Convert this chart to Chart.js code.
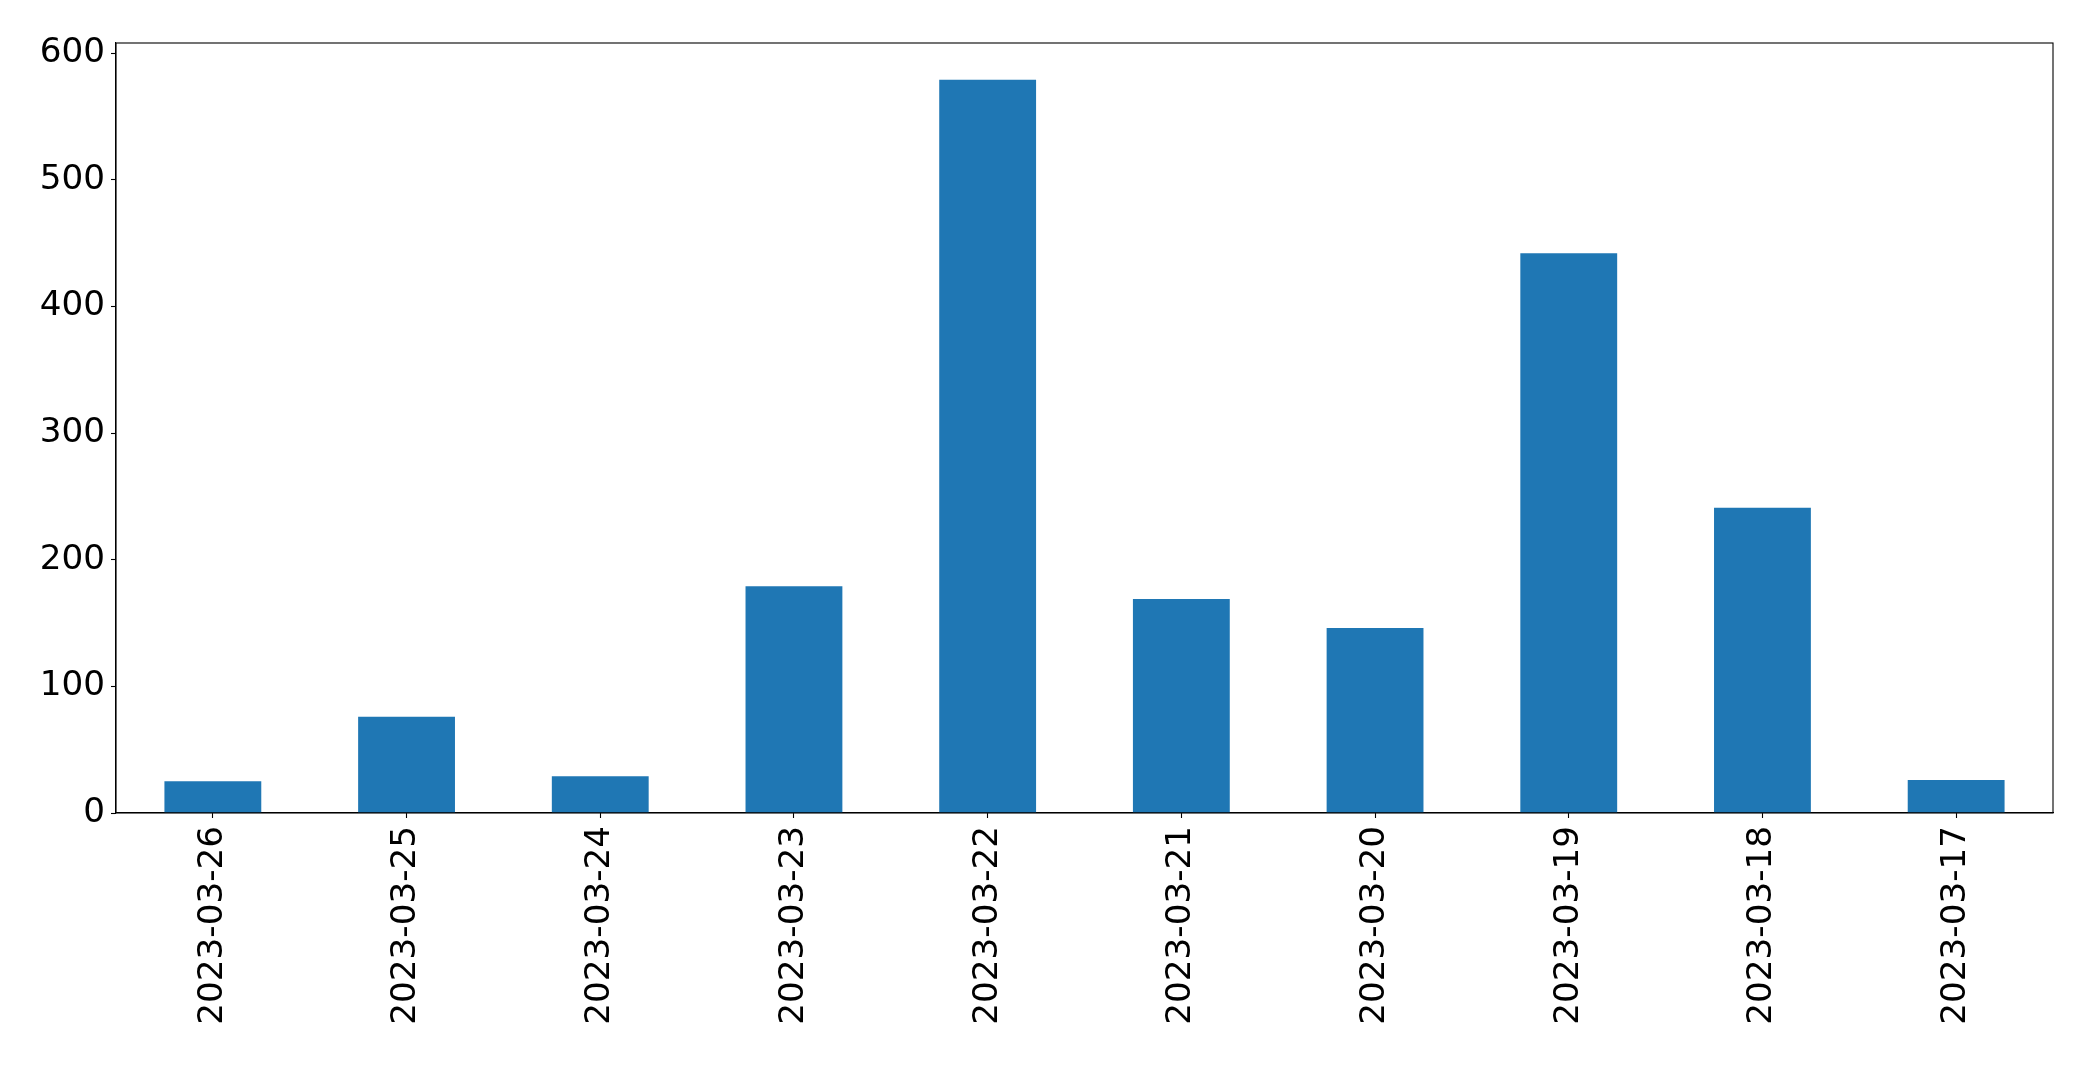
<!DOCTYPE html>
<html lang="en">
<head>
    <meta charset="UTF-8">
    <title>Bar Chart</title>
    <script src="https://cdn.jsdelivr.net/npm/chart.js"></script>
    <style>
        html, body {
            margin: 0;
            padding: 0;
            background: #ffffff;
        }

        .chart-container {
            width: 2093px;
            height: 1065px;
        }
    </style>
</head>
<body>
    <div class="chart-container">
        <canvas id="barChart"></canvas>
    </div>

    <script>
        // Data
        const dates = ['2023-03-26', '2023-03-25', '2023-03-24', '2023-03-23', '2023-03-22',
                       '2023-03-21', '2023-03-20', '2023-03-19', '2023-03-18', '2023-03-17'];
        const counts = [25, 76, 29, 179, 579, 169, 146, 442, 241, 26];
        const yTicks = [0, 100, 200, 300, 400, 500, 600];

        const FONT = 'DejaVu Sans';

        // draws the full box around the plot area (top and right spines too)
        const frame = {
            id: 'frame',
            afterDraw(chart) {
                const { ctx, chartArea: a } = chart;
                ctx.save();
                ctx.strokeStyle = '#000';
                ctx.lineWidth = 1.1;
                ctx.strokeRect(a.left, a.top, a.right - a.left, a.bottom - a.top);
                ctx.restore();
            }
        };

        const ctx = document.getElementById('barChart').getContext('2d');
        new Chart(ctx, {
            type: 'bar',
            data: {
                labels: dates,
                datasets: [{
                    data: counts,
                    backgroundColor: '#1f77b4',
                    categoryPercentage: 1.0,
                    barPercentage: 0.5
                }]
            },
            options: {
                responsive: true,
                maintainAspectRatio: false,
                animation: false,
                layout: {
                    padding: { top: 43, right: 40, left: 0, bottom: 0 }
                },
                plugins: {
                    legend: { display: false },
                    tooltip: { enabled: false }
                },
                scales: {
                    x: {
                        grid: {
                            offset: false,
                            drawOnChartArea: false,
                            drawTicks: true,
                            tickLength: 5,
                            tickWidth: 1.1,
                            tickColor: '#000'
                        },
                        border: { display: true, color: '#000', width: 1.1 },
                        ticks: {
                            color: '#000',
                            font: { family: FONT, size: 34.2 },
                            minRotation: 90,
                            maxRotation: 90,
                            padding: 8,
                            autoSkip: false
                        },
                        afterFit(scale) { scale.height = 1065 - 813; }
                    },
                    y: {
                        min: 0,
                        max: Math.max(...counts) * 1.05,
                        grid: {
                            drawOnChartArea: false,
                            drawTicks: true,
                            tickLength: 5,
                            tickWidth: 1.1,
                            tickColor: '#000'
                        },
                        border: { display: true, color: '#000', width: 1.1 },
                        afterBuildTicks(scale) {
                            scale.ticks = yTicks.map(v => ({ value: v }));
                        },
                        ticks: {
                            color: '#000',
                            font: { family: FONT, size: 34.2 },
                            padding: 6,
                            includeBounds: false
                        },
                        afterFit(scale) { scale.width = 116; }
                    }
                }
            },
            plugins: [frame]
        });
    </script>
</body>
</html>
